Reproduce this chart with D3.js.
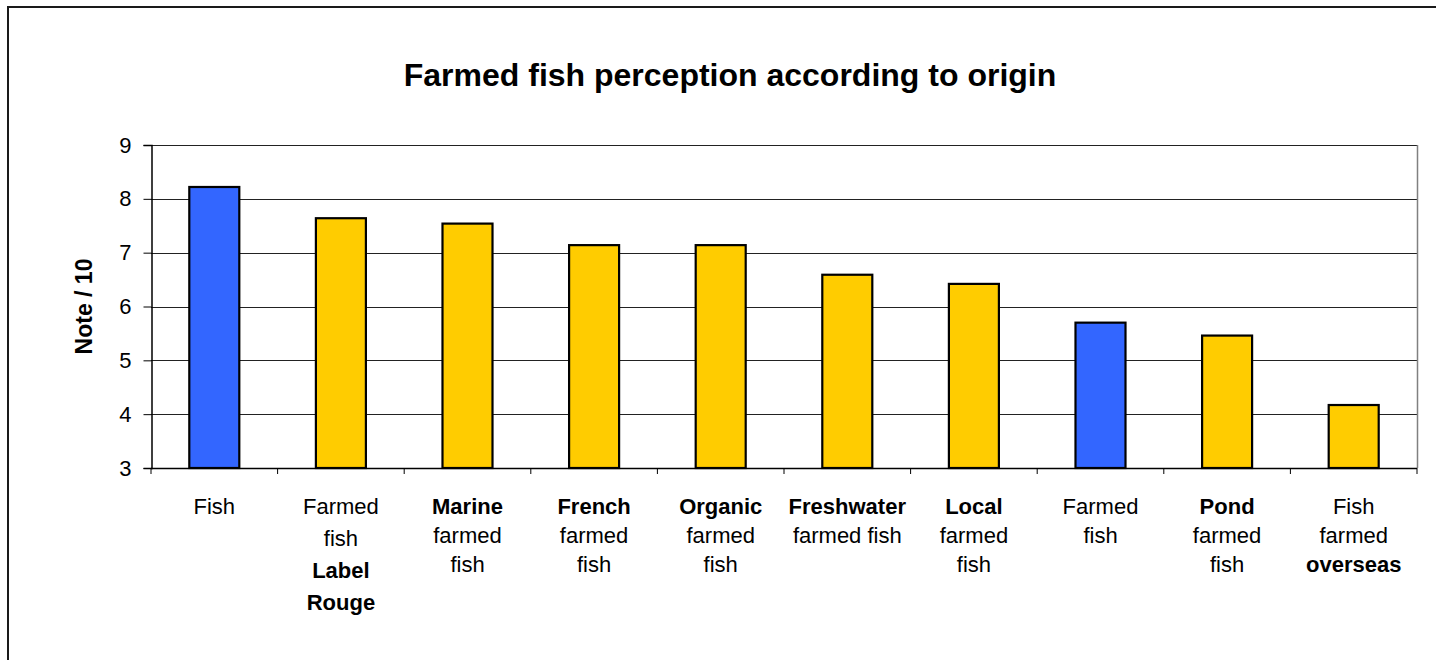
<!DOCTYPE html>
<html>
<head>
<meta charset="utf-8">
<script src="https://cdn.jsdelivr.net/npm/d3@7/dist/d3.min.js"></script>
<style>
  html, body { margin: 0; padding: 0; background: #fff; }
  svg { display: block; font-family: "Liberation Sans", Arial, sans-serif; }
</style>
</head>
<body>
<svg id="chart" width="1436" height="660"></svg>
<script>
// Category labels: "|" splits lines, **text** marks a bold line
const categories = [
  "Fish",
  "Farmed|fish|**Label**|**Rouge**",
  "**Marine**|farmed|fish",
  "**French**|farmed|fish",
  "**Organic**|farmed|fish",
  "**Freshwater**|farmed fish",
  "**Local**|farmed|fish",
  "Farmed|fish",
  "**Pond**|farmed|fish",
  "Fish|farmed|**overseas**"
];
// Score out of 10 for each category
const scores = [8.22, 7.64, 7.54, 7.14, 7.14, 6.59, 6.42, 5.70, 5.46, 4.17];
// Generic reference items vs. origin-qualified items
const groups = ["generic", "origin", "origin", "origin", "origin", "origin", "origin", "generic", "origin", "origin"];
const yTicks = [3, 4, 5, 6, 7, 8, 9];
const titleText = "Farmed fish perception according to origin";
const yTitle = "Note / 10";

const groupColor = { generic: "#3366FF", origin: "#FFCC00" };

const svg = d3.select("#chart");
const plot = { left: 151, right: 1417, top: 145, bottom: 468 };

// Outer chart frame
svg.append("rect")
  .attr("x", 8).attr("y", 7)
  .attr("width", 1450).attr("height", 700)
  .attr("fill", "#fff")
  .attr("stroke", "#1a1a1a").attr("stroke-width", 2);

const x = d3.scaleBand()
  .domain(d3.range(categories.length))
  .range([plot.left, plot.right])
  .padding(0);

const y = d3.scaleLinear()
  .domain([3, 9])
  .range([plot.bottom, plot.top]);

// Title
svg.append("text")
  .attr("x", 730).attr("y", 86)
  .attr("text-anchor", "middle")
  .attr("font-size", 32)
  .attr("font-weight", "bold")
  .text(titleText);

// Horizontal gridlines
svg.append("g")
  .selectAll("line")
  .data(yTicks.filter(t => t > 3))
  .join("line")
  .attr("x1", plot.left).attr("x2", plot.right)
  .attr("y1", d => Math.round(y(d)) + 0.5).attr("y2", d => Math.round(y(d)) + 0.5)
  .attr("stroke", "#222").attr("stroke-width", 1);

// Right edge of plot area
svg.append("line")
  .attr("x1", plot.right + 0.5).attr("x2", plot.right + 0.5)
  .attr("y1", plot.top).attr("y2", plot.bottom)
  .attr("stroke", "#808080").attr("stroke-width", 1.5);

// Bars
const barFrac = 0.395;
svg.append("g")
  .selectAll("rect")
  .data(scores)
  .join("rect")
  .attr("x", (d, i) => x(i) + x.bandwidth() * (1 - barFrac) / 2)
  .attr("width", x.bandwidth() * barFrac)
  .attr("y", d => y(d))
  .attr("height", d => y(3) - y(d))
  .attr("fill", (d, i) => groupColor[groups[i]])
  .attr("stroke", "#000").attr("stroke-width", 2.2);

// Y axis
const yAxis = d3.axisLeft(y).tickValues(yTicks).tickSize(8).tickPadding(12).tickFormat(d3.format("d"));
const gy = svg.append("g")
  .attr("transform", `translate(${plot.left + 0.5},0)`)
  .call(yAxis);
gy.select(".domain").attr("stroke", "#000").attr("stroke-width", 1.5);
gy.selectAll(".tick line").attr("stroke", "#000");
gy.selectAll(".tick text")
  .attr("font-size", 22)
  .attr("font-family", "Liberation Sans, Arial, sans-serif")
  .attr("fill", "#000");

// X axis: ticks at category boundaries
const boundaries = d3.range(categories.length + 1).map(i => plot.left + i * x.step());
const gx = svg.append("g");
gx.append("line")
  .attr("x1", plot.left).attr("x2", plot.right)
  .attr("y1", plot.bottom + 0.5).attr("y2", plot.bottom + 0.5)
  .attr("stroke", "#000").attr("stroke-width", 1.5);
gx.selectAll("line.tick")
  .data(boundaries)
  .join("line")
  .attr("class", "tick")
  .attr("x1", d => d).attr("x2", d => d)
  .attr("y1", plot.bottom).attr("y2", plot.bottom + 6)
  .attr("stroke", "#000").attr("stroke-width", 1);

// Category labels
const labels = svg.append("g")
  .attr("font-size", 22)
  .attr("text-anchor", "middle")
  .attr("fill", "#000");
categories.forEach((cat, i) => {
  const lines = cat.split("|");
  const step = lines.length > 3 ? 32 : 29;
  const t = labels.append("text")
    .attr("x", x(i) + x.bandwidth() / 2)
    .attr("y", 514);
  lines.forEach((ln, k) => {
    const bold = /^\*\*.*\*\*$/.test(ln);
    t.append("tspan")
      .attr("x", x(i) + x.bandwidth() / 2)
      .attr("dy", k === 0 ? 0 : step)
      .attr("font-weight", bold ? "bold" : "normal")
      .text(bold ? ln.slice(2, -2) : ln);
  });
});

// Y axis title
svg.append("text")
  .attr("transform", `translate(92, ${(plot.top + plot.bottom) / 2}) rotate(-90)`)
  .attr("text-anchor", "middle")
  .attr("font-size", 23)
  .attr("font-weight", "bold")
  .text(yTitle);
</script>
</body>
</html>
